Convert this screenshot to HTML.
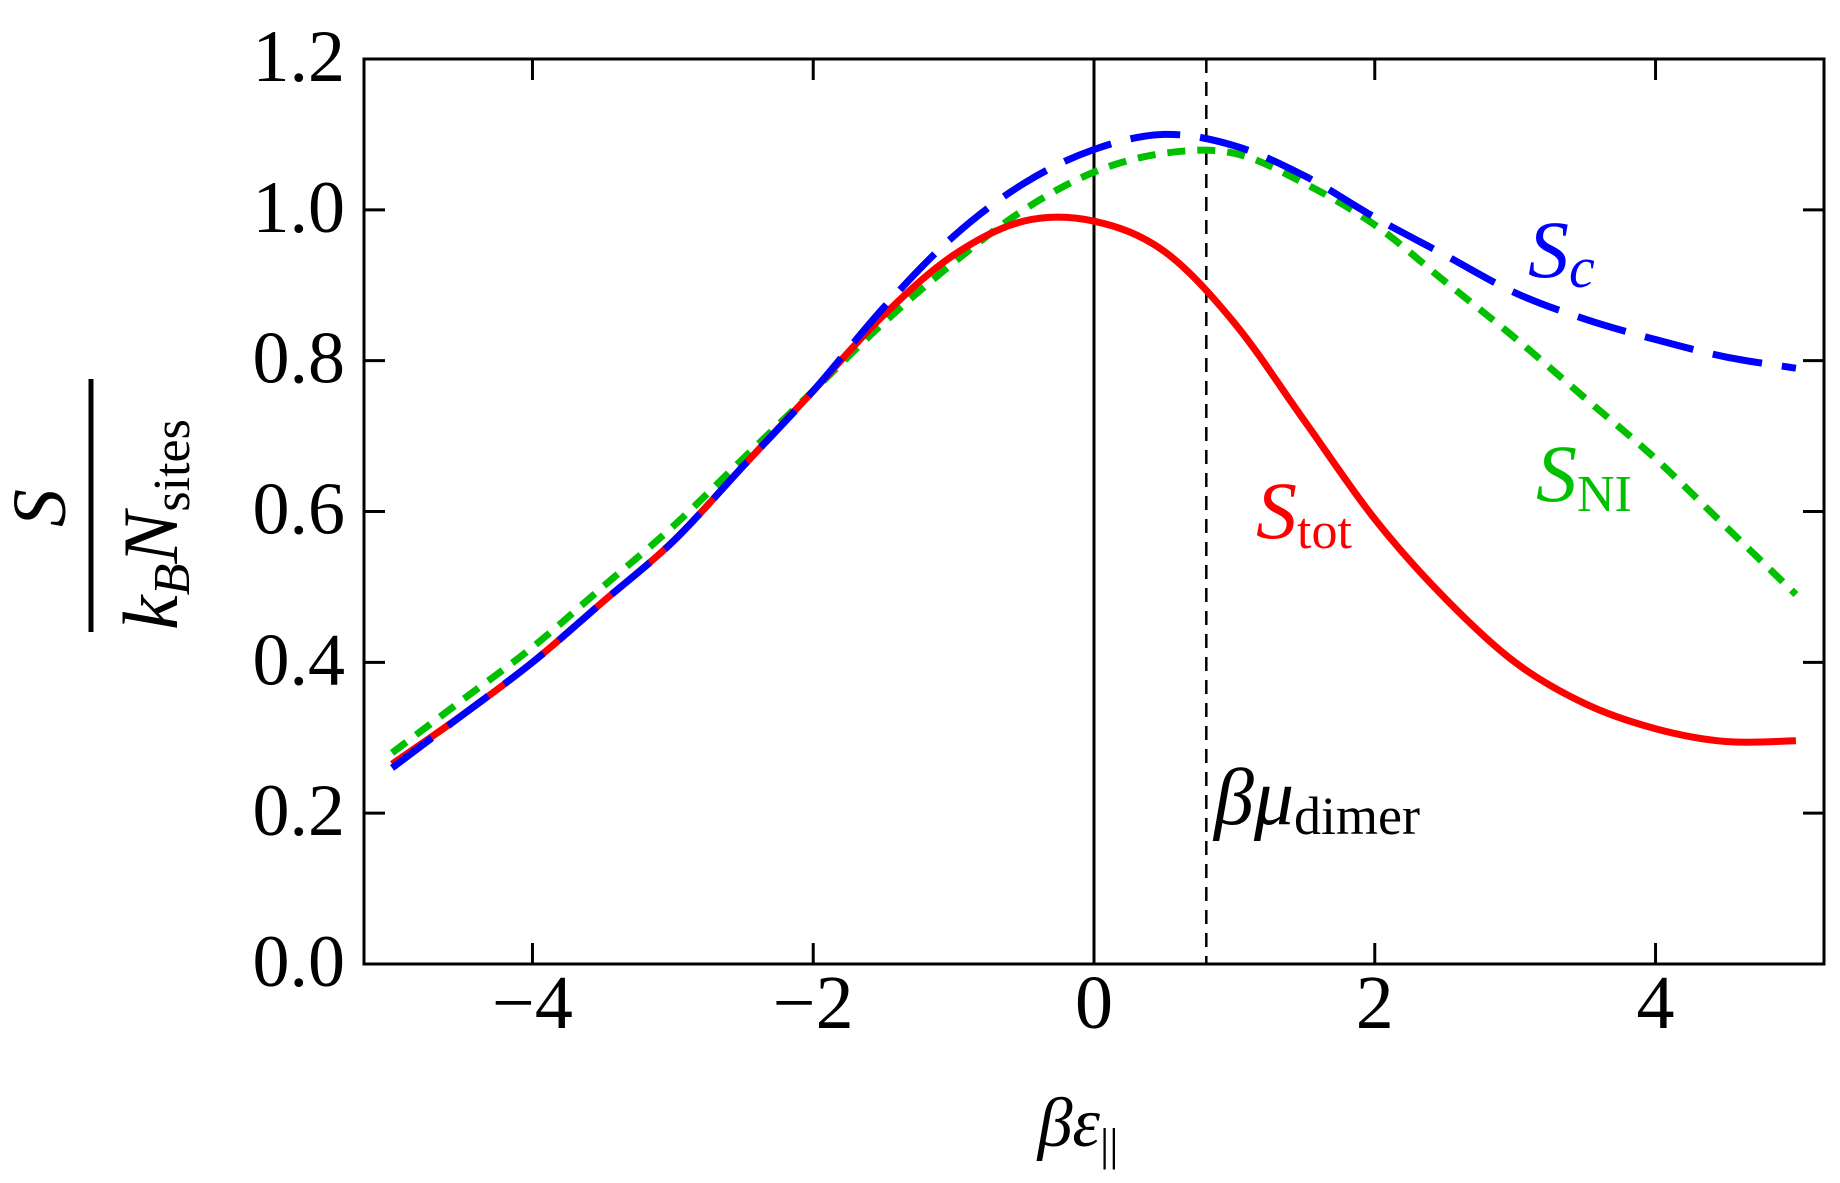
<!DOCTYPE html>
<html><head><meta charset="utf-8"><style>
html,body{margin:0;padding:0;background:#fff}
svg{display:block}
text{font-family:"Liberation Serif",serif;fill:#000}
</style></head><body>
<svg id="chart" width="1840" height="1183" viewBox="0 0 1840 1183" xmlns="http://www.w3.org/2000/svg">
<g id="marks"></g>
<g id="axes"></g>
<g>
<text x="65" y="508" font-size="76" font-style="italic" text-anchor="middle" transform="rotate(-90 65 508)">S</text>
<line x1="91" y1="379" x2="91" y2="632" stroke="#000" stroke-width="5"/>
<text x="177" y="630" font-size="78" transform="rotate(-90 177 630)"><tspan font-style="italic">k</tspan><tspan font-style="italic" font-size="52" dy="12">B</tspan><tspan font-style="italic" dy="-12">N</tspan><tspan font-size="52" dy="12">sites</tspan></text>
</g>
<text x="1078" y="1146" font-size="70" text-anchor="middle" font-style="italic">βε<tspan font-size="46" dy="14" font-style="normal">||</tspan></text>
<text x="1528" y="277" font-size="82" font-style="italic" style="fill:#0000ff">S<tspan font-size="58" dy="10">c</tspan></text>
<text x="1536" y="501" font-size="82" style="fill:#00c000"><tspan font-style="italic">S</tspan><tspan font-size="52" dy="10">NI</tspan></text>
<text x="1256" y="538" font-size="82" style="fill:#ff0000"><tspan font-style="italic">S</tspan><tspan font-size="52" dy="10">tot</tspan></text>
<text x="1214" y="824" font-size="80"><tspan font-style="italic">βμ</tspan><tspan font-size="54" dy="10">dimer</tspan></text>
</svg>
<script>
const xs = [-5,-4.5,-4,-3.5,-3,-2.5,-2,-1.5,-1,-0.5,0,0.5,1,1.5,2,2.5,3,3.5,4,4.5,5];
const sTot = [0.265,0.33,0.40,0.48,0.56,0.66,0.76,0.86,0.94,0.985,0.985,0.945,0.85,0.72,0.59,0.485,0.40,0.345,0.312,0.295,0.296];
const sC = [0.26,0.33,0.40,0.48,0.56,0.66,0.76,0.87,0.965,1.035,1.08,1.10,1.085,1.045,0.99,0.94,0.89,0.855,0.828,0.805,0.79];
const sNI = [0.28,0.35,0.42,0.50,0.58,0.67,0.76,0.85,0.93,1.00,1.05,1.075,1.075,1.035,0.98,0.905,0.83,0.75,0.67,0.58,0.49];
const xTicks = [-4,-2,0,2,4];
const xTickLabels = ["\u22124","\u22122","0","2","4"];
const yTicks = [0,0.2,0.4,0.6,0.8,1.0,1.2];
const yTickLabels = ["0.0","0.2","0.4","0.6","0.8","1.0","1.2"];
const muDimer = 0.8;

const L=364,R=1824,T=59,B=964,xmin=-5.2,xmax=5.2,ymin=0,ymax=1.2;
const X=v=>L+(v-xmin)/(xmax-xmin)*(R-L);
const Y=v=>B-(v-ymin)/(ymax-ymin)*(B-T);
const NS="http://www.w3.org/2000/svg";
const marks=document.getElementById('marks'), axes=document.getElementById('axes');
function mk(tag,attrs,parent){const e=document.createElementNS(NS,tag);for(const k in attrs)e.setAttribute(k,attrs[k]);parent.appendChild(e);return e;}
function smooth(ys){
  const p=xs.map((x,i)=>[X(x),Y(ys[i])]);
  let d=`M${p[0][0]},${p[0][1]}`;
  for(let i=0;i<p.length-1;i++){
    const p0=p[i-1]||p[i],p1=p[i],p2=p[i+1],p3=p[i+2]||p2;
    d+=`C${p1[0]+(p2[0]-p0[0])/6},${p1[1]+(p2[1]-p0[1])/6} ${p2[0]-(p3[0]-p1[0])/6},${p2[1]-(p3[1]-p1[1])/6} ${p2[0]},${p2[1]}`;
  }
  return d;
}
let e;
e=mk('line',{x1:X(0),y1:T,x2:X(0),y2:B,stroke:'#000','stroke-width':3},marks);


e=mk('line',{x1:X(muDimer),y1:T,x2:X(muDimer),y2:B,stroke:'#000','stroke-width':2.5,'stroke-dasharray':'14 9'},marks);


e=mk('path',{d:smooth(sNI),fill:'none',stroke:'#00c000','stroke-width':7,'stroke-dasharray':'18 12'},marks);


e=mk('path',{d:smooth(sTot),fill:'none',stroke:'#ff0000','stroke-width':7},marks);


e=mk('path',{d:smooth(sC),fill:'none',stroke:'#0000ff','stroke-width':7,'stroke-dasharray':'50 20'},marks);


e=mk('rect',{x:L,y:T,width:R-L,height:B-T,fill:'none',stroke:'#000','stroke-width':3},axes);


xTicks.forEach((v,i)=>{
  mk('line',{x1:X(v),y1:B,x2:X(v),y2:B-21,stroke:'#000','stroke-width':3},axes);
  mk('line',{x1:X(v),y1:T,x2:X(v),y2:T+21,stroke:'#000','stroke-width':3},axes);
  const t=mk('text',{x:X(v),y:1028,'font-size':76,'text-anchor':'middle'},axes);
  t.textContent=xTickLabels[i];
  
  
});
yTicks.forEach((v,i)=>{
  mk('line',{x1:L,y1:Y(v),x2:L+21,y2:Y(v),stroke:'#000','stroke-width':3},axes);
  mk('line',{x1:R,y1:Y(v),x2:R-21,y2:Y(v),stroke:'#000','stroke-width':3},axes);
  const t=mk('text',{x:345,y:Y(v)+22,'font-size':74,'text-anchor':'end'},axes);
  t.textContent=yTickLabels[i];
  
  
});
</script>
</body></html>
